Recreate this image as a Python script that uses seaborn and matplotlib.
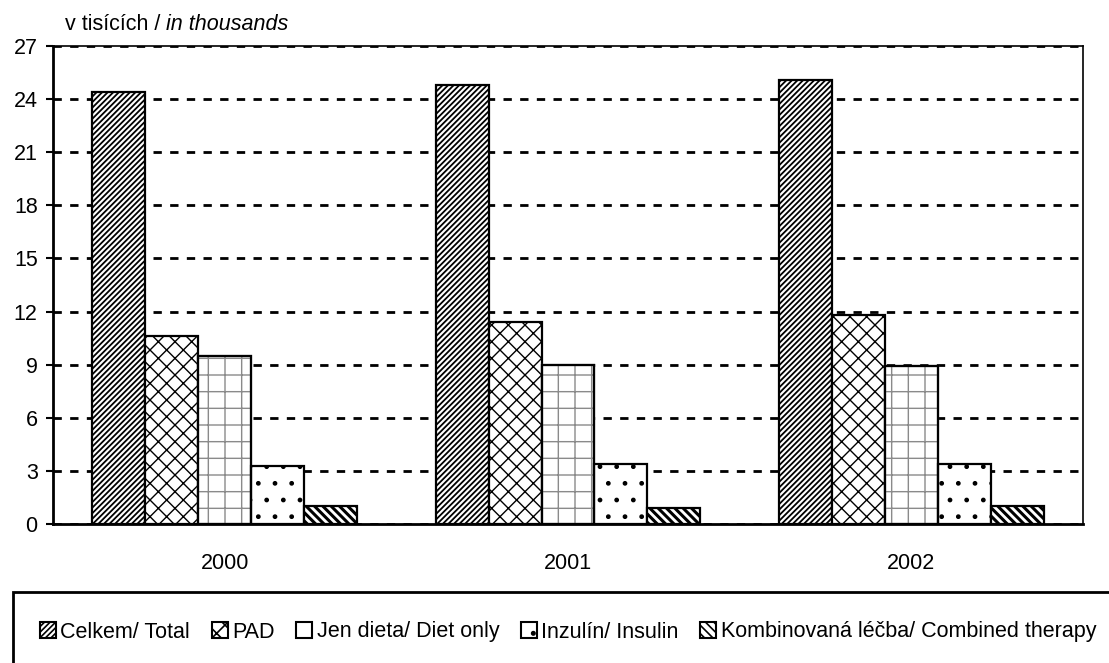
import matplotlib
matplotlib.use("Agg")
import matplotlib.pyplot as plt
from matplotlib.patches import Rectangle, Patch
import seaborn as sns
import pandas as pd

years = ["2000", "2001", "2002"]
series = ["Celkem/ Total", "PAD", "Jen dieta/ Diet only", "Inzulín/ Insulin",
          "Kombinovaná léčba/ Combined therapy"]
total = [24.4, 24.8, 25.1]
pad = [10.6, 11.4, 11.8]
diet = [9.5, 9.0, 8.9]
insulin = [3.3, 3.4, 3.4]
combined = [1.0, 0.9, 1.0]
yticks = [0, 3, 6, 9, 12, 15, 18, 21, 24, 27]

values = [total, pad, diet, insulin, combined]
rows = []
for s, vals in zip(series, values):
    for y, v in zip(years, vals):
        rows.append({"year": y, "series": s, "value": v})
df = pd.DataFrame(rows)

sns.set_style("white")
plt.rcParams["font.family"] = ["Liberation Sans", "DejaVu Sans"]
plt.rcParams["hatch.linewidth"] = 1.2
for k in ["text.color", "xtick.color", "ytick.color", "axes.labelcolor", "axes.edgecolor"]:
    plt.rcParams[k] = "black"

FS = 15.5
fig = plt.figure(figsize=(11.09, 6.63), dpi=100)
ax = fig.add_axes([53/1109, 1-524/663, (1083-53)/1109, (524-46)/663])

sns.barplot(data=df, x="year", y="value", hue="series", order=years,
            hue_order=series, width=0.77, ax=ax, palette=["white"]*5,
            edgecolor="black", linewidth=1.6, saturation=1, legend=False)

hatches = ["//////", "xx", "+", ".", "\\\\\\\\"]
legend_hatches = ["//////", "xx", "", ".", "\\\\\\\\"]
hlw = [1.3, 1.0, 1.0, 1.0, 2.2]
hcol = ["black", "black", "#8a8a8a", "black", "black"]
for cont, h, lw, hc in zip(ax.containers, hatches, hlw, hcol):
    for p in cont.patches:
        p.set_hatch(h)
        p.set_facecolor("white")
        if hasattr(p, "set_hatch_linewidth"):
            p.set_hatch_linewidth(lw)
        if hc != "black":
            p.set_edgecolor(hc)
            outline = Rectangle(p.get_xy(), p.get_width(), p.get_height(),
                                fill=False, edgecolor="black", linewidth=1.6,
                                zorder=p.get_zorder() + 0.1)
            ax.add_patch(outline)

ax.set_ylim(0, 27)
ax.set_xlim(-0.5, 2.5)
ax.set_yticks(yticks)
ax.set_yticklabels([str(t) for t in yticks])
ax.set_xticks([-0.5, 0.5, 1.5, 2.5])
ax.set_xticklabels([])
ax.set_xticks([0, 1, 2], minor=True)
ax.set_xticklabels(years, minor=True)
ax.tick_params(axis="x", which="major", direction="out", length=5, width=1.5, color="black")
ax.tick_params(axis="x", which="minor", length=0, pad=21, labelsize=FS)
ax.tick_params(axis="y", direction="out", length=5, width=1.5, pad=6, labelsize=FS,
               left=True, color="black")
ax.set_xlabel("")
ax.set_ylabel("")

ax.yaxis.grid(True, linestyle=(0, (3, 3)), color="black", linewidth=2)
ax.set_axisbelow(True)
for side in ["left", "bottom"]:
    ax.spines[side].set_color("black")
    ax.spines[side].set_linewidth(2)
for side in ["top", "right"]:
    ax.spines[side].set_visible(True)
    ax.spines[side].set_color("black")
    ax.spines[side].set_linewidth(1.2)

# title
t1 = fig.text(65/1109, 1-25/663, "v tisících / ", fontsize=FS, va="center", ha="left")
fig.canvas.draw()
bb = t1.get_window_extent()
fig.text(bb.x1/fig.bbox.width, 1-25/663, "in thousands", fontsize=FS, va="center",
         ha="left", style="italic")

# legend
handles = [Patch(facecolor="white", edgecolor="black", linewidth=1.5, hatch=h)
           for h in legend_hatches]
fig.legend(handles, series, loc="center", bbox_to_anchor=(568/1109, 1-632/663),
           ncol=5, frameon=False, handlelength=0.75, handleheight=0.75,
           handletextpad=0.2, columnspacing=1.0, fontsize=FS)
fig.patches.append(Rectangle((13/1109, -0.1), 1.2, 0.1 + (663-592)/663,
                             transform=fig.transFigure, fill=False,
                             edgecolor="black", linewidth=2))

fig.savefig("out.png", dpi=100)
